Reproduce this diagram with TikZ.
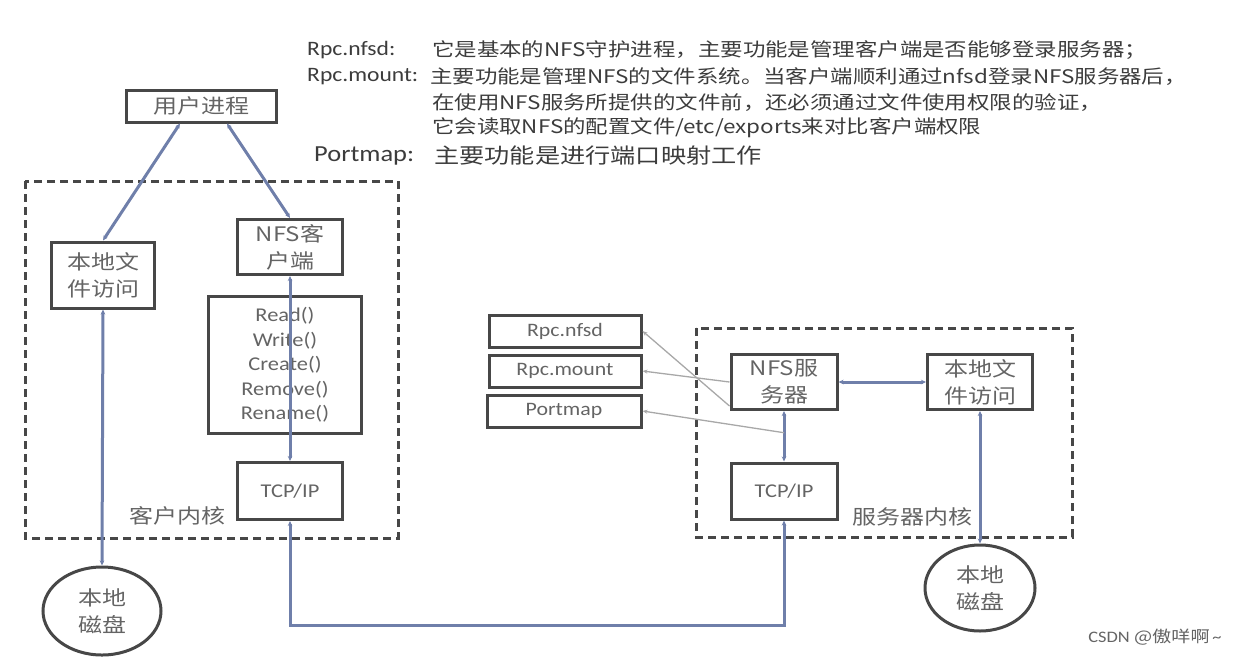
\documentclass[tikz,border=0pt]{standalone}
\usepackage{fontspec}
\setmainfont[FakeStretch=1.15]{Carlito}
\newfontfamily\cjk[FakeStretch=1.2]{Noto Sans CJK SC}
\usepackage{tikz}
\usetikzlibrary{shapes.geometric,arrows.meta,calc,positioning}

\definecolor{boxgray}{HTML}{474747}
\definecolor{txtgray}{HTML}{646464}
\definecolor{headgray}{HTML}{3C3C3C}
\definecolor{linkblue}{HTML}{6F7FAA}
\definecolor{thingray}{HTML}{A8A8A8}

\tikzset{
  box/.style={draw=boxgray, line width=3pt, text=txtgray, align=center, inner sep=0pt,
    font=\cjk\fontsize{20}{27}\selectfont},
  rpcbox/.style={box, minimum width=152pt, minimum height=32pt, font=\fontsize{19}{22}\selectfont},
  disk/.style={box, ellipse},
  kernel/.style={draw=boxgray, line width=3pt, dash pattern=on 8pt off 5pt},
  link/.style={draw=linkblue, line width=3pt, {Stealth[length=5pt,width=4.5pt]}-{Stealth[length=5pt,width=4.5pt]}},
  thinlink/.style={draw=thingray, line width=1.3pt, -{Stealth[length=5pt,width=4pt]}},
  head/.style={anchor=west, inner sep=0pt, text=headgray},
  note/.style={text=txtgray, inner sep=0pt, font=\cjk\fontsize{20}{24}\selectfont}
}

\begin{document}
\begin{tikzpicture}[x=1pt, y=-1pt]
  \useasboundingbox (0,0) rectangle (1236,657);

  % notes on top
  \node[head, font=\fontsize{20.5}{22}\selectfont] (h1) at (307,50) {Rpc.nfsd:};
  \node[head, font=\cjk\fontsize{18.7}{22}\selectfont] (t1) at (432,50) {它是基本的NFS守护进程，主要功能是管理客户端是否能够登录服务器；};
  \node[head, font=\fontsize{20.5}{22}\selectfont] (h2) at (307,77) {Rpc.mount:};
  \node[head, font=\cjk\fontsize{18.7}{22}\selectfont] (t2) at (430,77) {主要功能是管理NFS的文件系统。当客户端顺利通过nfsd登录NFS服务器后，};
  \node[head, font=\cjk\fontsize{18.7}{22}\selectfont] (t3) at (432,103) {在使用NFS服务所提供的文件前，还必须通过文件使用权限的验证，};
  \node[head, font=\cjk\fontsize{18.7}{22}\selectfont] (t4) at (432,128) {它会读取NFS的配置文件/etc/exports来对比客户端权限};
  \node[head, font=\fontsize{23}{25}\selectfont] (h5) at (314,156) {Portmap:};
  \node[head, font=\cjk\fontsize{21}{25}\selectfont] (t5) at (434,156) {主要功能是进行端口映射工作};

  % client side
  \draw[kernel] (25,181) rectangle (398,538);
  \node[note] (ck) at (177,516) {客户内核};
  \node[box, minimum width=150pt, minimum height=32pt] (up) at (201,106) {用户进程};
  \node[box, minimum width=103pt, minimum height=66pt] (lfa) at (103,275) {本地文\\件访问};
  \node[box, minimum width=105pt, minimum height=55pt] (nfsc) at (290,247) {NFS客\\户端};
  \node[box, minimum width=153pt, minimum height=137pt, font=\fontsize{19.5}{24.5}\selectfont] (ops) at (285,365) {Read()\\Write()\\Create()\\Remove()\\Rename()};
  \node[box, minimum width=105pt, minimum height=57pt, font=\fontsize{19.5}{22}\selectfont] (tcpc) at (290,491) {TCP/IP};
  \node[disk, minimum width=118pt, minimum height=88pt] (diskc) at (102,611) {本地\\磁盘};

  % server side
  \draw[kernel] (696,328) rectangle (1072,537);
  \node[note] (sk) at (912,517) {服务器内核};
  \node[rpcbox] (nfsd) at (565,331) {Rpc.nfsd};
  \node[rpcbox] (mount) at (565,371) {Rpc.mount};
  \node[rpcbox, minimum width=154pt] (pmap) at (564,411) {Portmap};
  \node[box, minimum width=106pt, minimum height=55pt] (srv) at (784,382) {NFS服\\务器};
  \node[box, minimum width=105pt, minimum height=55pt] (lfas) at (980,382) {本地文\\件访问};
  \node[box, minimum width=106pt, minimum height=56pt, font=\fontsize{19.5}{22}\selectfont] (tcps) at (784,491) {TCP/IP};
  \node[disk, minimum width=110pt, minimum height=86pt] (disks) at (980,588) {本地\\磁盘};

  % connectors
  \draw[link] ([xshift=-21pt]up.south) -- (lfa.north);
  \draw[link] ([xshift=26pt]up.south) -- (nfsc.north);
  \draw[link] (lfa.south) -- (diskc.north);
  \draw[link] (nfsc.south) -- (tcpc.north);
  \coordinate (bus) at (540,625);
  \draw[link] (tcpc.south) |- (bus) -| (tcps.south);
  \draw[link] (srv.south) -- (tcps.north);
  \draw[link] (srv.east) -- (lfas.west);
  \draw[link] (lfas.south) -- (disks.north);
  \draw[thinlink] ([yshift=-24pt]srv.west) -- (nfsd.east);
  \draw[thinlink] (srv.west) -- (mount.east);
  \draw[thinlink] ($(srv.south)!0.43!(tcps.north)$) -- (pmap.east);

  \node[text=txtgray, inner sep=0pt, font=\fontsize{16}{18}\selectfont] (mark) at (1155,637) {CSDN {\cjk @傲咩啊}\,\textasciitilde};
\end{tikzpicture}
\end{document}
